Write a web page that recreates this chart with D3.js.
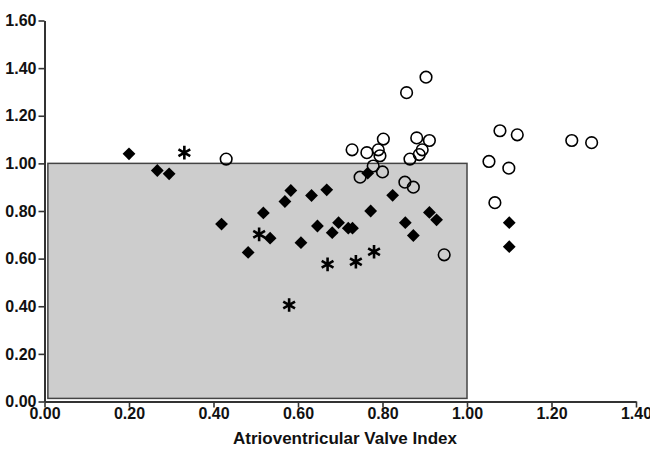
<!DOCTYPE html>
<html>
<head>
<meta charset="utf-8">
<script src="https://cdn.jsdelivr.net/npm/d3@7"></script>
<style>
  body { margin: 0; background: #fff; }
  text { font-family: Arial, "Liberation Sans", sans-serif; font-weight: bold; fill: #111; }
</style>
</head>
<body>
<div id="chart"></div>
<script>
// diamonds (filled)
var diamondX = [0.200, 0.267, 0.295, 0.419, 0.482, 0.518, 0.534, 0.569, 0.583, 0.607, 0.632, 0.646, 0.668,
                0.681, 0.696, 0.719, 0.729, 0.765, 0.772, 0.824, 0.854, 0.873, 0.911, 0.928, 1.100, 1.100];
var diamondY = [1.040, 0.970, 0.956, 0.745, 0.626, 0.792, 0.686, 0.840, 0.886, 0.667, 0.865, 0.737, 0.889,
                0.709, 0.751, 0.728, 0.728, 0.959, 0.800, 0.866, 0.751, 0.697, 0.794, 0.763, 0.751, 0.650];
// open circles
var circleX = [0.430, 0.728, 0.763, 0.790, 0.802, 0.794, 0.778, 0.747, 0.800, 0.857, 0.903, 0.881, 0.911,
               0.894, 0.887, 0.865, 0.853, 0.873, 0.946, 1.052, 1.078, 1.119, 1.099, 1.066, 1.248, 1.295];
var circleY = [1.018, 1.057, 1.045, 1.057, 1.102, 1.032, 0.989, 0.942, 0.964, 1.297, 1.362, 1.107, 1.096,
               1.057, 1.037, 1.018, 0.921, 0.900, 0.616, 1.008, 1.137, 1.120, 0.980, 0.835, 1.096, 1.087];
// asterisks
var starX = [0.331, 0.508, 0.579, 0.670, 0.737, 0.780];
var starY = [1.045, 0.702, 0.405, 0.576, 0.587, 0.629];

var xTicks = [0, 0.2, 0.4, 0.6, 0.8, 1.0, 1.2, 1.4];
var yTicks = [0, 0.2, 0.4, 0.6, 0.8, 1.0, 1.2, 1.4, 1.6];
var xTitle = "Atrioventricular Valve Index";

// shaded normal region
var boxX = [0.008, 1.0];
var boxY = [0.013, 1.0];

var width = 650, height = 449;

var svg = d3.select('#chart')
            .append('svg')
            .attr('width', width)
            .attr('height', height);

var x = d3.scaleLinear().domain([0, 1.4]).range([44.5, 636]);
var y = d3.scaleLinear().domain([0, 1.6]).range([401.5, 20.5]);

svg.append('rect')
   .attr('x', x(boxX[0]))
   .attr('y', y(boxY[1]))
   .attr('width', x(boxX[1]) - x(boxX[0]))
   .attr('height', y(boxY[0]) - y(boxY[1]))
   .style('fill', '#cdcdcd')
   .style('stroke', '#444')
   .style('stroke-width', 1.5);

var fmt = d3.format('.2f');

var yAxis = svg.append('g')
   .attr('transform', 'translate(' + x(0) + ',0)')
   .call(d3.axisLeft(y).tickValues(yTicks).tickFormat(fmt).tickSize(6).tickSizeOuter(0).tickPadding(2));

var xAxis = svg.append('g')
   .attr('transform', 'translate(0,' + y(0) + ')')
   .call(d3.axisBottom(x).tickValues(xTicks).tickFormat(fmt).tickSize(6).tickSizeOuter(0).tickPadding(0));

[xAxis, yAxis].forEach(function (g) {
  g.select('.domain').style('stroke', '#333').style('stroke-width', 2);
  g.selectAll('.tick line').style('stroke', '#333').style('stroke-width', 1.6);
  g.selectAll('.tick text').style('font-size', '16px').style('font-family', 'Arial, "Liberation Sans", sans-serif')
   .style('font-weight', 'bold').style('fill', '#111');
});

svg.append('text')
   .attr('x', 345)
   .attr('y', 444)
   .attr('text-anchor', 'middle')
   .style('font-size', '17px')
   .text(xTitle);

var diamond = d3.symbol().type(d3.symbolSquare).size(82);
svg.selectAll('.diamond')
   .data(diamondX)
   .enter()
   .append('path')
   .attr('class', 'diamond')
   .attr('d', diamond)
   .attr('transform', function (d, i) {
     return 'translate(' + x(d) + ',' + y(diamondY[i]) + ') rotate(45)';
   })
   .style('fill', '#000');

svg.selectAll('.circle')
   .data(circleX)
   .enter()
   .append('circle')
   .attr('class', 'circle')
   .attr('cx', function (d) { return x(d); })
   .attr('cy', function (d, i) { return y(circleY[i]); })
   .attr('r', 5.8)
   .style('fill', 'none')
   .style('stroke', '#000')
   .style('stroke-width', 1.6);

var star = d3.symbol().type(d3.symbolAsterisk).size(130);
svg.selectAll('.star')
   .data(starX)
   .enter()
   .append('path')
   .attr('class', 'star')
   .attr('d', star)
   .attr('transform', function (d, i) {
     return 'translate(' + x(d) + ',' + y(starY[i]) + ')';
   })
   .style('fill', 'none')
   .style('stroke', '#000')
   .style('stroke-width', 2.6);
</script>
</body>
</html>
